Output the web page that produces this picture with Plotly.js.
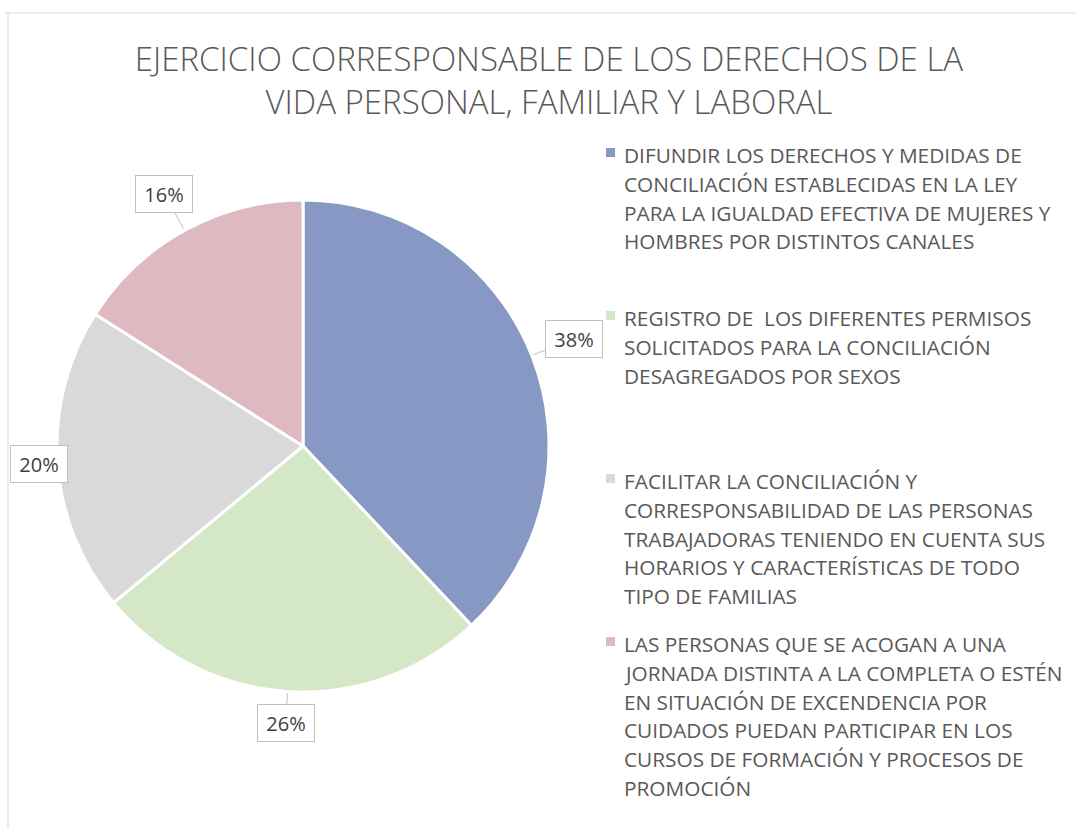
<!DOCTYPE html>
<html><head><meta charset="utf-8">
<script src="https://cdn.plot.ly/plotly-3.0.1.min.js"></script>
<style>html,body{margin:0;padding:0;background:#fff}#chart{width:1075px;height:828px}</style>
</head><body><div id="chart"></div>
<script>
const categories = [
  "DIFUNDIR LOS DERECHOS Y MEDIDAS DE<br>CONCILIACIÓN ESTABLECIDAS EN LA LEY<br>PARA LA IGUALDAD EFECTIVA DE MUJERES Y<br>HOMBRES POR DISTINTOS CANALES",
  "REGISTRO DE\u00A0 LOS DIFERENTES PERMISOS<br>SOLICITADOS PARA LA CONCILIACIÓN<br>DESAGREGADOS POR SEXOS",
  "FACILITAR LA CONCILIACIÓN Y<br>CORRESPONSABILIDAD DE LAS PERSONAS<br>TRABAJADORAS TENIENDO EN CUENTA SUS<br>HORARIOS Y CARACTERÍSTICAS DE TODO<br>TIPO DE FAMILIAS",
  "LAS PERSONAS QUE SE ACOGAN A UNA<br>JORNADA DISTINTA A LA COMPLETA O ESTÉN<br>EN SITUACIÓN DE EXCENDENCIA POR<br>CUIDADOS PUEDAN PARTICIPAR EN LOS<br>CURSOS DE FORMACIÓN Y PROCESOS DE<br>PROMOCIÓN"
];
const values = [38, 26, 20, 16];
const titleText = "EJERCICIO CORRESPONSABLE DE LOS DERECHOS DE LA<br>VIDA PERSONAL, FAMILIAR Y LABORAL";

const colors = ["#8798C5", "#D4E8C7", "#D9D9D9", "#DFB9C1"];
const FONT = "Open Sans, Noto Sans, sans-serif";
const TEXTC = "#595959";
const W = 1075, H = 828;
const CX = 303, CY = 446, R = 246;

const total = values.reduce((a, b) => a + b, 0);
const annotations = [];
const shapes = [];

// data labels (callouts)
let cum = 0;
values.forEach((v, i) => {
  const mid = (cum + v / 2) / total * 2 * Math.PI;
  cum += v;
  const dx = Math.sin(mid), dy = -Math.cos(mid);
  const hw = 29, hh = 19, pad = 11;
  const d = R + pad + Math.abs(dx) * hw + Math.abs(dy) * hh;
  let bx = CX + dx * d, by = CY + dy * d;
  bx = Math.max(bx, 10 + hw);
  const tx = CX + dx * (R + 2), ty = CY + dy * (R + 2);
  const inside = Math.abs(tx - bx) < hw && Math.abs(ty - by) < hh;
  const base = {
    xref: "paper", yref: "paper",
    text: Math.round(v / total * 100) + "%",
    font: {family: FONT, size: 20, color: "#404040"},
    bordercolor: "#BFBFBF", borderwidth: 1, bgcolor: "#FFFFFF",
    width: 56, height: 36, borderpad: 0
  };
  if (inside) {
    annotations.push(Object.assign(base, {x: bx / W, y: 1 - by / H, showarrow: false,
      xanchor: "center", yanchor: "middle"}));
  } else {
    annotations.push(Object.assign(base, {x: tx / W, y: 1 - ty / H, showarrow: true,
      ax: bx - tx, ay: by - ty, arrowhead: 0, arrowwidth: 1, arrowcolor: "#BFBFBF", standoff: 0}));
  }
});

// legend (custom, right side)
const LEG_X = 622, LEG_Y0 = 155, LEG_STEP = 163, LINE_H = 28.8;
categories.forEach((c, i) => {
  const lines = c.split("<br>");
  const y0 = LEG_Y0 + i * LEG_STEP;
  shapes.push({type: "rect", xref: "paper", yref: "paper",
    x0: 606 / W, x1: 615 / W, y0: 1 - (y0 - 7) / H, y1: 1 - (y0 + 2) / H,
    fillcolor: colors[i], line: {width: 0}});
  lines.forEach((ln, j) => {
    annotations.push({xref: "paper", yref: "paper", x: LEG_X / W, y: 1 - (y0 + j * LINE_H) / H,
      xanchor: "left", yanchor: "middle", showarrow: false, text: ln,
      font: {family: FONT, size: 20.8, color: TEXTC}});
  });
});

// chart area border
shapes.push({type: "line", xref: "paper", yref: "paper", x0: 5 / W, x1: 1, y0: 1 - 13 / H, y1: 1 - 13 / H,
  line: {color: "#D9D9D9", width: 1}});
shapes.push({type: "line", xref: "paper", yref: "paper", x0: 8 / W, x1: 8 / W, y0: 0, y1: 1 - 13 / H,
  line: {color: "#D9D9D9", width: 1}});

const trace = {
  type: "pie",
  labels: categories.map(c => c.replace(/<br>/g, " ")),
  values: values,
  marker: {colors: colors, line: {color: "#FFFFFF", width: 3}},
  sort: false,
  direction: "clockwise",
  rotation: 0,
  textinfo: "none",
  showlegend: false,
  domain: {x: [(CX - R) / W, (CX + R) / W], y: [(H - CY - R) / H, (H - CY + R) / H]}
};

const layout = {
  width: W, height: H,
  margin: {l: 0, r: 0, t: 0, b: 0},
  paper_bgcolor: "#FFFFFF",
  showlegend: false,
  title: {text: titleText, font: {family: FONT, size: 33, color: TEXTC, weight: 300},
    x: 549 / W, xanchor: "center", xref: "paper", y: 1 - 71 / H, yref: "container", yanchor: "top"},
  annotations: annotations,
  shapes: shapes
};

Plotly.newPlot("chart", [trace], layout, {displayModeBar: false, staticPlot: true});
</script>
</body></html>
